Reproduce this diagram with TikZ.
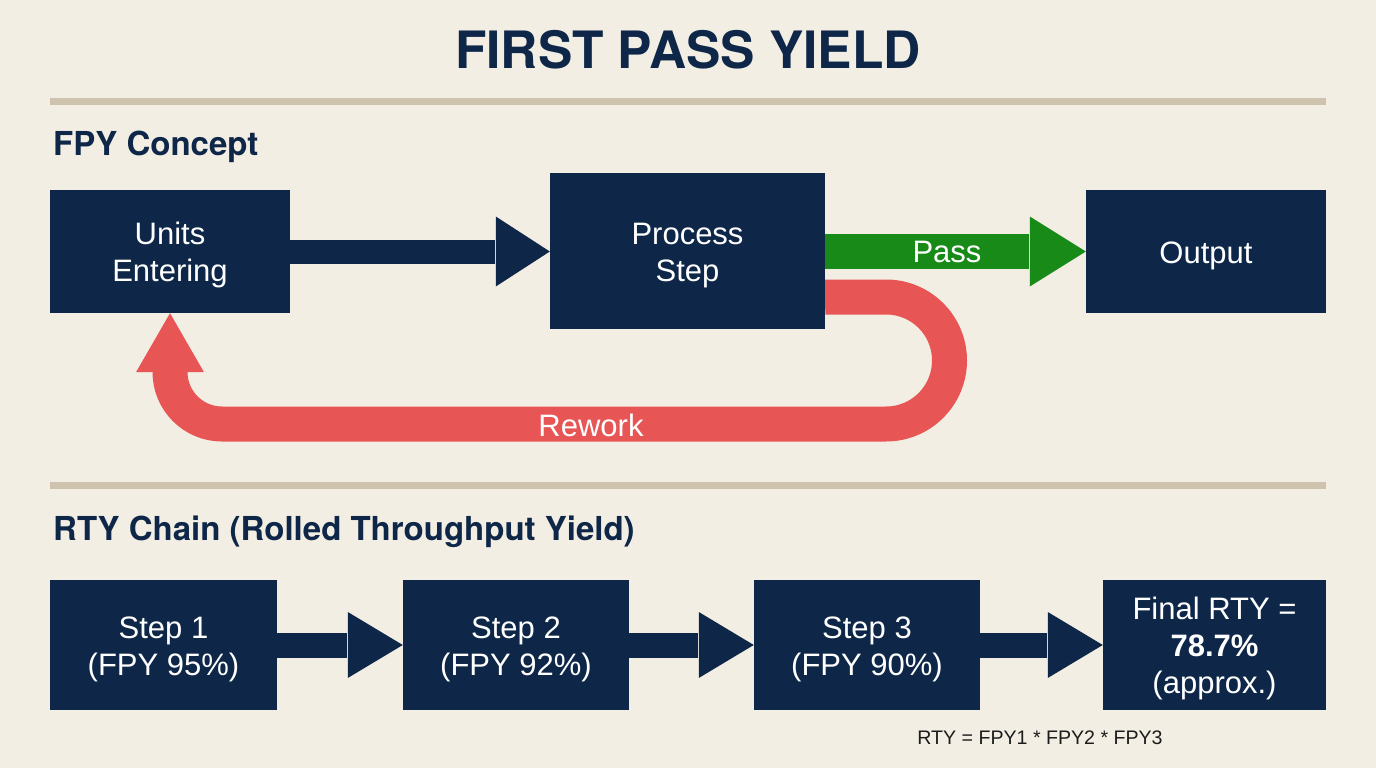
\documentclass[tikz,border=0pt]{standalone}
\usepackage{fontspec}
\setmainfont{Liberation Sans}
\newfontfamily\headfont{TeX Gyre Heros}
\usetikzlibrary{calc}
\definecolor{bg}{HTML}{F3EEE3}
\definecolor{navy}{HTML}{0E2748}
\definecolor{rulec}{HTML}{CEC3AF}
\definecolor{passg}{HTML}{188A18}
\definecolor{reworkr}{HTML}{E75555}
\definecolor{formula}{HTML}{1C1C1C}
\newcommand\topstrut{\rule{0pt}{29.5pt}}
\newcommand\fatarrow[6]{%
  \draw[#3, line width=#4pt] (#1) -- ($(#2 |- #1)+(-#5-1,0)$);
  \fill[#3] (#2 |- #1) -- ($(#2 |- #1)+(-#5,-#6)$) -- ($(#2 |- #1)+(-#5,#6)$) -- cycle;}
\begin{document}
\begin{tikzpicture}[x=1pt,y=-1pt,
  box/.style={fill=navy, draw=none, text=white, align=center, inner sep=0pt,
    font=\fontsize{31}{37}\selectfont},
  heading/.style={anchor=base west, text=navy, inner sep=0pt,
    font=\headfont\bfseries\fontsize{33}{40}\selectfont},
  sectionrule/.style={rulec, line width=7pt},
  arrowlabel/.style={text=white, inner sep=0pt, font=\fontsize{31}{37}\selectfont}]
\fill[bg] (0,0) rectangle (1376,768);
\useasboundingbox (0,0) rectangle (1376,768);

% title and section headings
\node[anchor=base, text=navy, inner sep=0pt, font=\headfont\bfseries\fontsize{51.5}{60}\selectfont] (title) at (688,69) {FIRST PASS YIELD};
\draw[sectionrule] (50,101) -- (1326,101);
\node[heading] (h1) at (53,155) {FPY Concept};
\draw[sectionrule] (50,485) -- (1326,485);
\node[heading] (h2) at (53,540) {RTY Chain (Rolled Throughput Yield)};

% FPY concept boxes
\node[box, minimum width=240pt, minimum height=123pt] (units) at (170,251.5) {\topstrut Units\\Entering};
\node[box, minimum width=275pt, minimum height=156pt] (process) at (687.5,251) {\topstrut Process\\Step};
\node[box, minimum width=240pt, minimum height=123pt] (output) at (1206,251.5) {\topstrut Output};

\fatarrow{units.east}{process.west}{navy}{24}{54}{35}
\fatarrow{process.east |- units.east}{output.west}{passg}{35}{56}{35}
\node[arrowlabel] (passlabel) at (947,252) {Pass};

% rework loop
\coordinate (rw0) at ($(process.south east)+(0,-32)$);
\draw[reworkr, line width=35pt] (rw0) -- (886,297)
  arc[start angle=-90, end angle=90, radius=63.5] -- (222,424)
  arc[start angle=90, end angle=180, radius=52] -- (170,369);
\fill[reworkr] (units.south) -- ++(-34,59) -- ++(68,0) -- cycle;
\node[arrowlabel] (rwlabel) at (591,425) {Rework};

% RTY chain
\node[box, minimum width=227pt, minimum height=130pt] (s1) at (163.5,645) {\topstrut Step 1\\(FPY 95\%)};
\node[box, minimum width=226pt, minimum height=130pt] (s2) at (516,645) {\topstrut Step 2\\(FPY 92\%)};
\node[box, minimum width=226pt, minimum height=130pt] (s3) at (867,645) {\topstrut Step 3\\(FPY 90\%)};
\node[box, minimum width=223pt, minimum height=130pt] (fin) at (1214.5,645) {\topstrut Final RTY =\\\textbf{78.7\%}\\(approx.)};

\fatarrow{s1.east}{s2.west}{navy}{25}{55}{33}
\fatarrow{s2.east}{s3.west}{navy}{25}{55}{33}
\fatarrow{s3.east}{fin.west}{navy}{25}{55}{33}

\node[text=formula, inner sep=0pt, font=\fontsize{19.6}{24}\selectfont] (formula) at (1040,738) {RTY = FPY1 * FPY2 * FPY3};
\end{tikzpicture}
\end{document}
